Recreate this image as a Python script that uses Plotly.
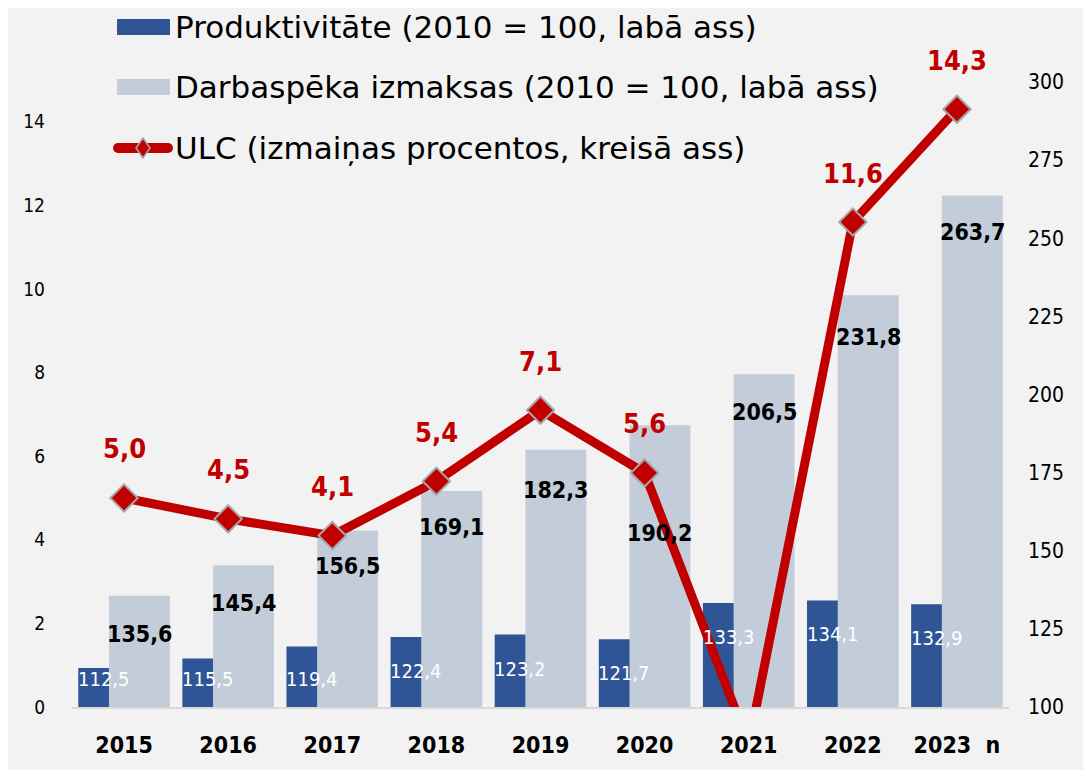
import plotly.graph_objects as go

years = ["2015", "2016", "2017", "2018", "2019", "2020", "2021", "2022", "2023  n"]
productivity = [112.5, 115.5, 119.4, 122.4, 123.2, 121.7, 133.3, 134.1, 132.9]
labour_cost = [135.6, 145.4, 156.5, 169.1, 182.3, 190.2, 206.5, 231.8, 263.7]
ulc = [5.0, 4.5, 4.1, 5.4, 7.1, 5.6, -0.9, 11.6, 14.3]

legend_names = [
    "Produktivitāte (2010 = 100, labā ass)",
    "Darbaspēka izmaksas (2010 = 100, labā ass)",
    "ULC (izmaiņas procentos, kreisā ass)",
]

# styles
DARK = "#2f5597"
LIGHT = "#c3cdd9"
RED = "#c00000"
BG = "#f2f2f2"
NUM_FONT = "DejaVu Sans Condensed, Liberation Sans Narrow, Arial Narrow, sans-serif"
LEG_FONT = "DejaVu Sans, Verdana, sans-serif"
labour_label_shift = [-38, -38, -36, -36, -40, -108, -38, -42, -37]  # px below bar top

OFF = 8  # page body margin
W, H = 1091 - OFF, 770 - OFF
L, R, T, B = 72 - OFF, 82, 82 - OFF, 63
PW, PH = W - L - R, H - T - B
RIGHT_RANGE = [100, 300]
LEFT_RANGE = [0, 14.95]

def px_x(p):  # page pixel -> paper
    return (p - OFF - L) / PW

def px_y(p):
    return (H - B - (p - OFF)) / PH

fig = go.Figure()
fig.add_trace(go.Bar(x=years, y=productivity, marker=dict(color=DARK, line=dict(width=0)),
                     width=0.30, offset=-0.44, yaxis="y", showlegend=False, name=legend_names[0]))
fig.add_trace(go.Bar(x=years, y=labour_cost, marker=dict(color=LIGHT, line=dict(width=0)),
                     width=0.585, offset=-0.145, yaxis="y", showlegend=False, name=legend_names[1]))
fig.add_trace(go.Scatter(x=years, y=ulc, mode="lines+markers", yaxis="y2",
                         line=dict(color=RED, width=9),
                         marker=dict(symbol="diamond", size=21, color=RED,
                                     line=dict(color="#a6a6a6", width=2)),
                         showlegend=False, name=legend_names[2]))

ann = []
upp = (RIGHT_RANGE[1] - RIGHT_RANGE[0]) / PH  # units per px on right axis
for i, (yr, v) in enumerate(zip(years, productivity)):
    ly = max(v - 34 * upp, RIGHT_RANGE[0] + 28 * upp)
    ann.append(dict(x=i - 0.29, y=ly, xref="x", yref="y", text=f"{v:.1f}".replace(".", ","),
                    showarrow=False, xshift=10,
                    font=dict(family=NUM_FONT, size=20, color="white")))
for i, (yr, v) in enumerate(zip(years, labour_cost)):
    ann.append(dict(x=i + 0.1475, y=v, xref="x", yref="y", text=f"<b>{v:.1f}</b>".replace(".", ","),
                    showarrow=False, yshift=labour_label_shift[i],
                    font=dict(family=NUM_FONT, size=23, color="black")))
for i, (yr, v) in enumerate(zip(years, ulc)):
    if v < LEFT_RANGE[0]:
        continue
    ann.append(dict(x=i, y=v, xref="x", yref="y2", text=f"<b>{v:.1f}</b>".replace(".", ","),
                    showarrow=False, yshift=49,
                    font=dict(family=NUM_FONT, size=27, color=RED)))

# custom legend (page pixel positions)
shapes = []
leg_rows = [27, 87, 148]
for j, (name, col) in enumerate(zip(legend_names[:2], [DARK, LIGHT])):
    cy = leg_rows[j]
    shapes.append(dict(type="rect", xref="paper", yref="paper",
                       x0=px_x(117), x1=px_x(170), y0=px_y(cy + 8), y1=px_y(cy - 8),
                       fillcolor=col, line=dict(width=0), layer="above"))
cy = leg_rows[2]
shapes.append(dict(type="line", xref="paper", yref="paper",
                   x0=px_x(118), x1=px_x(168), y0=px_y(cy), y1=px_y(cy),
                   line=dict(color=RED, width=10), layer="above"))
shapes.append(dict(type="circle", xref="paper", yref="paper",
                   x0=px_x(113), x1=px_x(123), y0=px_y(cy + 5), y1=px_y(cy - 5),
                   fillcolor=RED, line=dict(width=0), layer="above"))
shapes.append(dict(type="circle", xref="paper", yref="paper",
                   x0=px_x(163), x1=px_x(173), y0=px_y(cy + 5), y1=px_y(cy - 5),
                   fillcolor=RED, line=dict(width=0), layer="above"))
d = 10
path = (f"M {px_x(143)} {px_y(cy - d)} L {px_x(143 + d * 0.7)} {px_y(cy)} "
        f"L {px_x(143)} {px_y(cy + d)} L {px_x(143 - d * 0.7)} {px_y(cy)} Z")
shapes.append(dict(type="path", xref="paper", yref="paper", path=path,
                   fillcolor=RED, line=dict(color="#a6a6a6", width=1.5), layer="above"))
for j, name in enumerate(legend_names):
    ann.append(dict(x=px_x(173), y=px_y(leg_rows[j]), xref="paper", yref="paper",
                    xanchor="left", yanchor="middle", text=name, showarrow=False,
                    font=dict(family=LEG_FONT, size=31, color="black")))

fig.update_layout(
    width=W, height=H,
    margin=dict(l=L, r=R, t=T, b=B, autoexpand=False),
    paper_bgcolor=BG, plot_bgcolor=BG,
    barmode="overlay",
    annotations=ann, shapes=shapes,
    xaxis=dict(type="category", range=[-0.5, 8.5], showgrid=False, zeroline=False,
               showline=True, linecolor="#d9d9d9", linewidth=2, ticks="", automargin=False,
               tickfont=dict(family=NUM_FONT, size=23, color="black", weight="bold"),
               ticklabelstandoff=16),
    yaxis=dict(side="right", range=RIGHT_RANGE, dtick=25, showgrid=False, zeroline=False,
               showline=False, ticks="", automargin=False,
               tickfont=dict(family=NUM_FONT, size=21, color="black"),
               ticklabelstandoff=18),
    yaxis2=dict(side="left", overlaying="y", range=LEFT_RANGE, dtick=2, showgrid=False,
                zeroline=False, showline=False, ticks="", automargin=False,
                tickfont=dict(family=NUM_FONT, size=19, color="black"),
                ticklabelstandoff=26),
)

fig.write_html("out.html")
